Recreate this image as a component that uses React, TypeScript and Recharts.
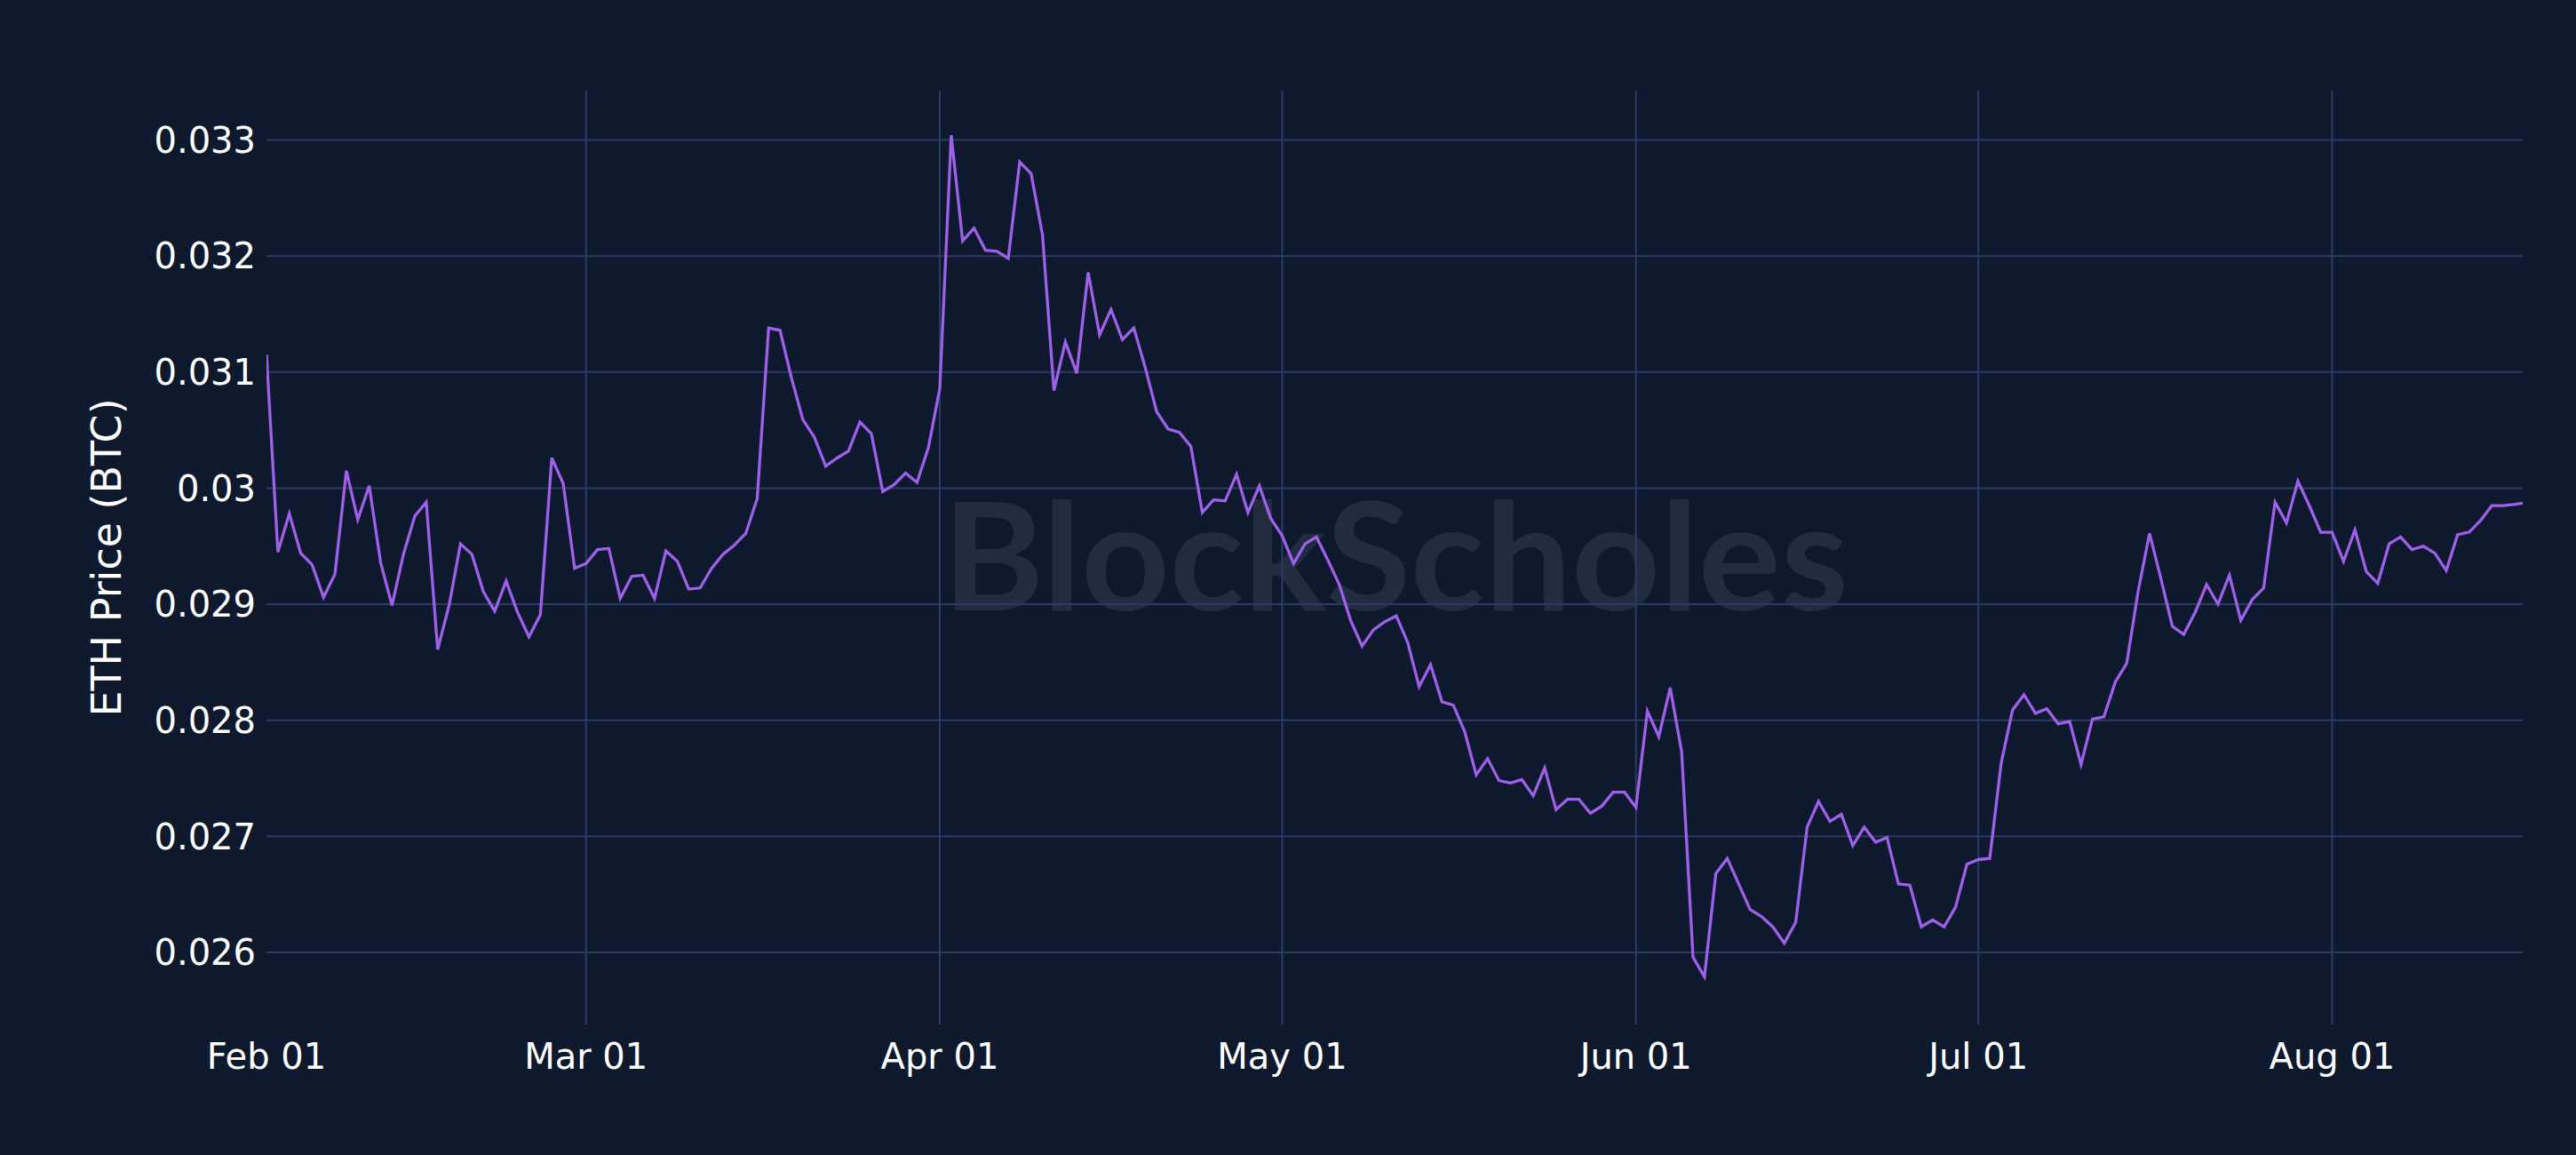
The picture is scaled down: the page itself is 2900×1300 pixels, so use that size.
import React from 'react';
import { LineChart, Line, XAxis, YAxis, CartesianGrid } from 'recharts';

// ETH price in BTC, one value per day
const febValues = [
  0.03115, 0.02945, 0.02978, 0.02944, 0.02934, 0.02906, 0.02926, 0.03015, 0.02973, 0.03002,
  0.02936, 0.02899, 0.02943, 0.02976, 0.02988, 0.02861, 0.02899, 0.02952, 0.02943, 0.02911,
  0.02894, 0.0292, 0.02893, 0.02872, 0.02891, 0.03026, 0.03004, 0.02931,
];
const marValues = [
  0.02935, 0.02947, 0.02948, 0.02905, 0.02924, 0.02925, 0.02905, 0.02946, 0.02937, 0.02913,
  0.02914, 0.02931, 0.02943, 0.02951, 0.02961, 0.02991, 0.03138, 0.03136, 0.03095, 0.03059,
  0.03044, 0.03019, 0.03026, 0.03032, 0.03057, 0.03047, 0.02997, 0.03003, 0.03013, 0.03005,
  0.03035,
];
const aprValues = [
  0.03086, 0.03304, 0.03213, 0.03224, 0.03205, 0.03204, 0.03198, 0.03281, 0.03271, 0.03218,
  0.03084, 0.03126, 0.03099, 0.03186, 0.03132, 0.03154, 0.03128, 0.03138, 0.03104, 0.03066,
  0.03051, 0.03048, 0.03036, 0.02979, 0.0299, 0.02989, 0.03012, 0.02979, 0.03002, 0.02974,
];
const mayValues = [
  0.02959, 0.02935, 0.02952, 0.02958, 0.02938, 0.02917, 0.02886, 0.02864, 0.02878, 0.02885,
  0.0289, 0.02867, 0.02829, 0.02848, 0.02816, 0.02813, 0.0279, 0.02753, 0.02767, 0.02748,
  0.02746, 0.02749, 0.02735, 0.02759, 0.02723, 0.02732, 0.02732, 0.0272, 0.02726, 0.02738,
  0.02738,
];
const junValues = [
  0.02725, 0.02808, 0.02786, 0.02828, 0.02773, 0.02596, 0.02579, 0.02668, 0.02681, 0.02659,
  0.02637, 0.02631, 0.02622, 0.02608, 0.02626, 0.02708, 0.0273, 0.02713, 0.02719, 0.02692,
  0.02708, 0.02695, 0.02699, 0.02659, 0.02658, 0.02622, 0.02628, 0.02622, 0.02639, 0.02676,
];
const julValues = [
  0.0268, 0.02681, 0.02763, 0.02809, 0.02822, 0.02806, 0.0281, 0.02797, 0.02799, 0.02762,
  0.02801, 0.02803, 0.02833, 0.02849, 0.02911, 0.02961, 0.02922, 0.02881, 0.02874, 0.02893,
  0.02917, 0.029, 0.02925, 0.02886, 0.02904, 0.02914, 0.02988, 0.0297, 0.03006, 0.02985,
  0.02962,
];
const augValues = [
  0.02962, 0.02937, 0.02964, 0.02928, 0.02918, 0.02952, 0.02958, 0.02947, 0.0295, 0.02944,
  0.02929, 0.0296, 0.02962, 0.02972, 0.02985, 0.02985, 0.02986,
];
// latest (intraday) observation, as a day offset from Feb 01
const lastDay = 197.7;
const lastValue = 0.02987;

const months = [febValues, marValues, aprValues, mayValues, junValues, julValues, augValues];

// x-axis ticks (day offset from Feb 01) and their labels
const xTickDays = [0, 28, 59, 89, 120, 150, 181];
const xTickLabels = ['Feb 01', 'Mar 01', 'Apr 01', 'May 01', 'Jun 01', 'Jul 01', 'Aug 01'];
// vertical grid lines (none at the left edge)
const xGridDays = [28, 59, 89, 120, 150, 181];

// y-axis ticks and their labels
const yTicks = [0.026, 0.027, 0.028, 0.029, 0.03, 0.031, 0.032, 0.033];
const yTickLabels = ['0.026', '0.027', '0.028', '0.029', '0.03', '0.031', '0.032', '0.033'];

const yDomain = [0.02538, 0.033425];
const xDomain = [0, lastDay];

const yTitle = 'ETH Price (BTC)';
const watermark = 'BlockScholes';

const data: { day: number; price: number }[] = [];
{
  let d = 0;
  months.forEach((arr) => {
    arr.forEach((v) => {
      data.push({ day: d, price: v });
      d += 1;
    });
  });
  data.push({ day: lastDay, price: lastValue });
}

const BG = '#0f192d';
const GRID = '#283c64';
const LINE = '#9d60e8';
const FONT = 'DejaVu Sans, Verdana, sans-serif';

const YTitle = (props: any) => {
  const vb = props.viewBox || { x: 0, y: 102, width: 300, height: 1051 };
  const cx = 120;
  const cy = vb.y + vb.height / 2;
  return (
    <text
      x={cx}
      y={cy}
      transform={`rotate(-90 ${cx} ${cy})`}
      textAnchor="middle"
      dominantBaseline="central"
      fill="#ffffff"
      fontSize={46}
      fontFamily={FONT}
    >
      {yTitle}
    </text>
  );
};

const hGen = (props: any) => {
  const s = props?.yAxis?.scale;
  if (s && typeof s === 'function') return yTicks.map((t) => s(t));
  if (s && typeof s.map === 'function') return yTicks.map((t) => s.map(t));
  const o = props.offset;
  return yTicks.map(
    (t) => o.top + ((yDomain[1] - t) / (yDomain[1] - yDomain[0])) * o.height
  );
};

const vGen = (props: any) => {
  const s = props?.xAxis?.scale;
  if (s && typeof s === 'function') return xGridDays.map((t) => s(t));
  if (s && typeof s.map === 'function') return xGridDays.map((t) => s.map(t));
  const o = props.offset;
  return xGridDays.map(
    (t) => o.left + ((t - xDomain[0]) / (xDomain[1] - xDomain[0])) * o.width
  );
};

export default function App() {
  return (
    <div
      style={{
        position: 'fixed',
        left: 0,
        top: 0,
        width: 2900,
        height: 1300,
        background: BG,
        overflow: 'hidden',
      }}
    >
      <svg
        width={2900}
        height={1300}
        style={{ position: 'absolute', left: 0, top: 0 }}
      >
        <text
          x={1061}
          y={687}
          fontSize={168}
          fontFamily="Lato, 'Noto Sans', sans-serif"
          fontWeight={700}
          fill="#222c40"
          textLength={1020}
          lengthAdjust="spacingAndGlyphs"
        >
          {watermark}
        </text>
      </svg>
      <div style={{ position: 'absolute', left: 0, top: 0 }}>
        <LineChart
          width={2900}
          height={1300}
          data={data}
          margin={{ top: 102, right: 60, left: 0, bottom: 0 }}
        >
          <CartesianGrid
            stroke={GRID}
            strokeWidth={2}
            horizontalCoordinatesGenerator={hGen}
            verticalCoordinatesGenerator={vGen}
          />
          <XAxis
            dataKey="day"
            type="number"
            domain={xDomain}
            ticks={xTickDays}
            tickFormatter={(v: number) => xTickLabels[xTickDays.indexOf(v)] ?? ''}
            height={147}
            axisLine={false}
            tickLine={false}
            tickSize={0}
            tickMargin={22}
            interval={0}
            tick={{ fill: '#ffffff', fontSize: 40, fontFamily: FONT }}
            allowDataOverflow
          />
          <YAxis
            type="number"
            domain={yDomain}
            ticks={yTicks}
            tickFormatter={(v: number) => yTickLabels[yTicks.indexOf(v)] ?? String(v)}
            width={300}
            axisLine={false}
            tickLine={false}
            tickSize={0}
            tickMargin={12}
            interval={0}
            tick={{ fill: '#ffffff', fontSize: 40, fontFamily: FONT }}
            allowDataOverflow
            label={{ content: YTitle }}
          />
          <Line
            type="linear"
            dataKey="price"
            stroke={LINE}
            strokeWidth={3.3}
            dot={false}
            activeDot={false}
            isAnimationActive={false}
          />
        </LineChart>
      </div>
    </div>
  );
}
